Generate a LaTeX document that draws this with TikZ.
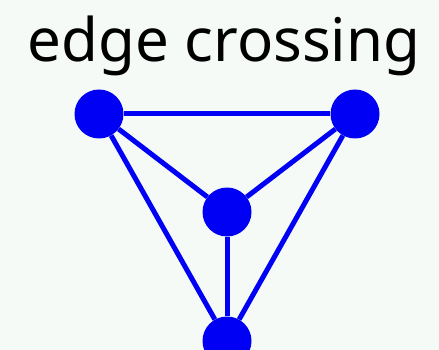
\documentclass[tikz,border=0pt]{standalone}
\usepackage{fontspec}
\setmainfont{Noto Sans}
\definecolor{bg}{RGB}{245,250,247}
\definecolor{nblue}{RGB}{0,0,245}
\begin{document}
\begin{tikzpicture}[x=1pt,y=-1pt,
  vert/.style={circle,fill=nblue,draw=none,minimum size=49pt,inner sep=0pt},
  edgeline/.style={draw=nblue,line width=5pt}]
\fill[bg] (0,0) rectangle (439,350);
\useasboundingbox (0,0) rectangle (439,350);
\node[anchor=base,font=\fontsize{60}{72}\selectfont] (title) at (224,62) {edge crossing};
\node[vert] (a) at (99,114) {};
\node[vert] (b) at (355,114) {};
\node[vert] (c) at (227,212) {};
\node[vert] (d) at (227,341) {};
\draw[edgeline] (a) -- (b);
\draw[edgeline] (a) -- (c);
\draw[edgeline] (b) -- (c);
\draw[edgeline] (c) -- (d);
\draw[edgeline] (a) -- (d);
\draw[edgeline] (b) -- (d);
\end{tikzpicture}
\end{document}
